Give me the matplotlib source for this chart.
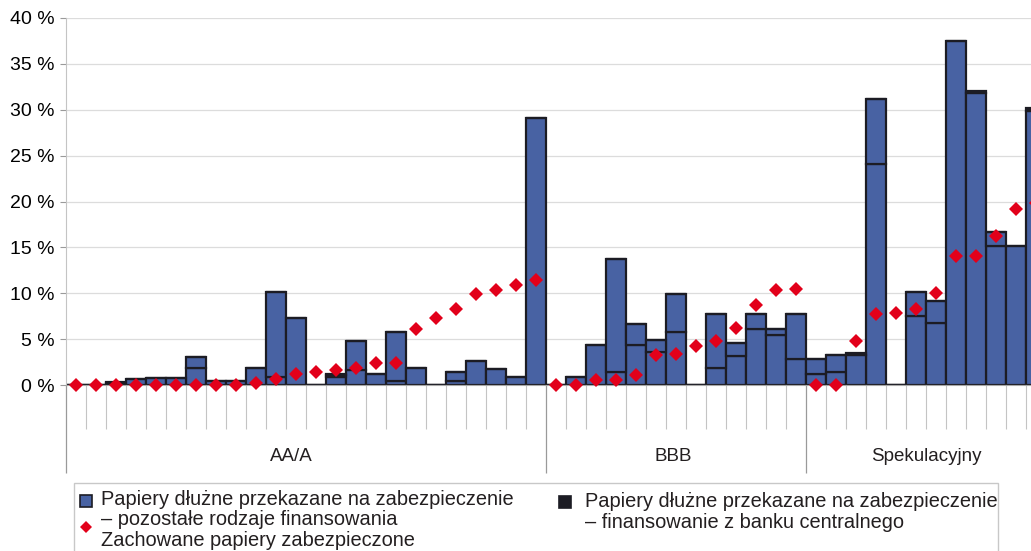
import matplotlib.pyplot as plt
from matplotlib.lines import Line2D
from matplotlib.patches import Rectangle

plt.rcParams['font.family'] = ['Liberation Sans', 'DejaVu Sans']
plt.rcParams['text.color'] = '#231f20'

# stacked bars: lower blue part, upper blue part, thin black top (central bank)
bar_total = [0, 0, 0.3, 0.6, 0.8, 0.8, 3.05, 0.4, 0.4, 1.9, 10.1, 7.35, 0, 1.2, 4.8, 1.2,
             5.75, 1.9, 0, 1.45, 2.6, 1.7, 0.9, 29.05,
             0, 0.9, 4.4, 13.7, 6.6, 4.95, 9.95, 0, 7.75, 4.6, 7.75, 6.15, 7.75,
             2.8, 3.25, 3.45, 31.2, 0, 10.1, 9.15, 37.45, 32.0, 16.65, 15.2, 30.2]
bar_lower = [0, 0, 0, 0, 0, 0, 1.9, 0, 0, 0, 0.9, 0, 0, 0.9, 1.6, 0,
             0.45, 0, 0, 0.45, 0, 0, 0, 0,
             0, 0, 0, 1.4, 4.4, 3.6, 5.75, 0, 1.9, 3.15, 6.15, 5.5, 2.8,
             1.2, 1.45, 0, 24.1, 0, 7.5, 6.8, 0, 0, 15.2, 0, 0]
bar_cb = [0, 0, 0.1, 0, 0, 0, 0, 0, 0, 0, 0, 0, 0, 0.1, 0, 0,
          0, 0, 0, 0, 0, 0, 0, 0,
          0, 0, 0, 0, 0, 0, 0, 0, 0, 0, 0, 0, 0,
          0, 0, 0.15, 0, 0, 0, 0, 0, 0.2, 0, 0, 0.35]
retained = [0, 0, 0, 0, 0, 0, 0, 0, 0, 0.25, 0.7, 1.25, 1.4, 1.65, 1.9, 2.45,
            2.45, 6.15, 7.35, 8.3, 9.9, 10.4, 10.9, 11.45,
            0, 0, 0.5, 0.5, 1.05, 3.25, 3.4, 4.25, 4.8, 6.2, 8.7, 10.3, 10.5,
            0, 0, 4.8, 7.75, 7.9, 8.3, 10.05, 14.05, 14.05, 16.25, 19.15, 19.8]
groups = ['AA/A', 'BBB', 'Spekulacyjny']
group_sizes = [24, 13, 12]
group_label_x = [10.75, 29.85, 42.5]

blue = '#4862a3'
edge = '#1c1c24'
red = '#e2001a'
W, H = 1031, 551

x = list(range(len(bar_total)))
upper = [t - l - c for t, l, c in zip(bar_total, bar_lower, bar_cb)]
cb_base = [t - c for t, c in zip(bar_total, bar_cb)]

fig = plt.figure(figsize=(W / 100, H / 100), dpi=100)
ax = fig.add_axes([66 / W, 1 - 385 / H, 980 / W, 367 / H])

ax.bar(x, bar_lower, width=1.0, color=blue, edgecolor=edge, linewidth=1.6, zorder=2)
ax.bar(x, upper, bottom=bar_lower, width=1.0, color=blue, edgecolor=edge, linewidth=1.6, zorder=2)
ax.bar(x, bar_cb, bottom=cb_base, width=1.0, color=edge, edgecolor=edge, linewidth=1.6, zorder=2)
ax.plot(x, retained, linestyle='none', marker='D', markersize=7, color=red,
        markeredgewidth=0, zorder=4, clip_on=False)

ax.set_xlim(-0.5, 48.5)
ax.set_ylim(0, 40)
ax.set_yticks(range(0, 41, 5))
ax.set_yticklabels([f'{v} %' for v in range(0, 41, 5)], fontsize=14)
ax.yaxis.grid(True, color='#dcdcdc', linewidth=0.9)
ax.set_axisbelow(True)

# category boundaries and group separators hang below the axis
seps = [-0.5]
for n in group_sizes:
    seps.append(seps[-1] + n)
bounds = [k - 0.5 for k in range(len(bar_total) + 1) if k - 0.5 not in seps]
ax.set_xticks(bounds)
ax.set_xticks(seps, minor=True)
ax.tick_params(axis='x', which='major', length=32, width=0.8, color='#c4c4c4',
               labelbottom=False)
ax.tick_params(axis='x', which='minor', length=63, width=0.9, color='#9a9a9a',
               labelbottom=False)
ax.tick_params(axis='y', length=4, width=0.8, color='#9a9a9a', pad=4)

for name, gx in zip(groups, group_label_x):
    ax.text(gx, -0.196, name, transform=ax.get_xaxis_transform(),
            ha='center', va='center', fontsize=13.5)

for s in ['top', 'right']:
    ax.spines[s].set_visible(False)
ax.spines['left'].set_color('#c4c4c4')
ax.spines['bottom'].set_color('#a8a8a8')

# legend box, laid out by hand (pixel positions from the top-left corner)
def fx(px):
    return px / W

def fy(py):
    return 1 - py / H

fig.add_artist(Rectangle((fx(74), fy(600)), fx(998) - fx(74), fy(483) - fy(600),
                         transform=fig.transFigure, facecolor='none',
                         edgecolor='#c8c8c8', linewidth=1.0))
legend_marks = [
    (86, 501, 's', 8, blue, edge),
    (86, 527, 'D', 6.6, red, red),
    (565, 502, 's', 9.2, edge, edge),
]
for mx, my, mk, ms, fc, ec in legend_marks:
    fig.add_artist(Line2D([fx(mx)], [fy(my)], transform=fig.transFigure, linestyle='none',
                          marker=mk, markersize=ms, markerfacecolor=fc,
                          markeredgecolor=ec, markeredgewidth=1.2 if mk == 's' else 0))
legend_lines = [
    (101, 505, 'Papiery dłużne przekazane na zabezpieczenie'),
    (101, 525, '– pozostałe rodzaje finansowania'),
    (101, 546, 'Zachowane papiery zabezpieczone'),
    (585, 507, 'Papiery dłużne przekazane na zabezpieczenie'),
    (585, 528, '– finansowanie z banku centralnego'),
]
for tx, ty, txt in legend_lines:
    fig.text(fx(tx), fy(ty), txt, ha='left', va='baseline', fontsize=14.4)

fig.savefig('out.png', dpi=100)
